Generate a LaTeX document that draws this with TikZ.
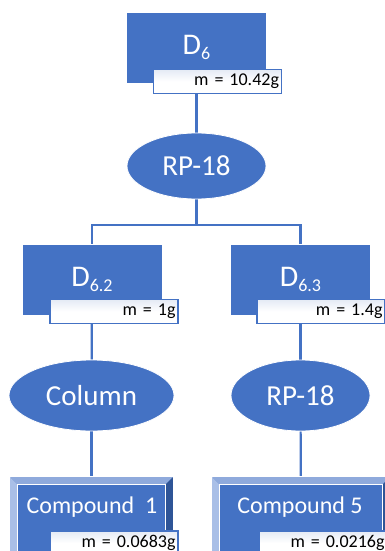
\documentclass[tikz,border=0pt]{standalone}
\usepackage{fontspec}
\setmainfont{Carlito}
\usetikzlibrary{calc,backgrounds,shapes.geometric}
\definecolor{accent}{HTML}{4472C4}
\definecolor{bevtop}{HTML}{8FAADC}
\definecolor{bevleft}{HTML}{A9BFE7}
\definecolor{bevright}{HTML}{2F5597}
\definecolor{labtop}{HTML}{E4EAF5}
\newcommand{\fraction}[2]{#1\raisebox{-0.35ex}{\fontsize{18}{20}\selectfont #2}}
\tikzset{
  sample/.style={rectangle, fill=accent, draw=white, line width=0.8pt,
    minimum width=140pt, minimum height=71pt, inner sep=0pt,
    text=white, font=\fontsize{30}{32}\selectfont},
  mass/.style={rectangle, draw=accent, line width=1.3pt,
    top color=labtop, bottom color=white, middle color=white,
    minimum width=128pt, minimum height=24pt, inner sep=2pt,
    text width=123pt, align=right, font=\fontsize{18}{20}\selectfont},
  method/.style={ellipse, fill=accent, draw=white, line width=0.8pt,
    inner sep=0pt, text=white, font=\fontsize{29}{31}\selectfont},
  compound/.style={rectangle, fill=accent, draw=white, line width=0.8pt,
    inner sep=0pt},
  cmptext/.style={text=white, font=\fontsize{24}{26}\selectfont, inner sep=0pt},
  link/.style={draw=accent, line width=2.2pt},
}
\begin{document}
\begin{tikzpicture}[x=1pt, y=-1pt]
\useasboundingbox (0,0) rectangle (385,551);
\clip (0,0) rectangle (385,551);

% sample fractions
\node[sample] (d6) at (196.5,47.5) {\fraction{D}{6}};
\node[mass] (m6) at (217.5,81.5) {m = 10.42g};

\node[method, minimum width=139pt, minimum height=66pt] (rp1) at (196.5,166) {RP-18};

\node[sample] (d62) at (92,279.5) {\fraction{D}{6.2}};
\node[mass] (m62) at (114,311.5) {m = 1g};
\node[sample] (d63) at (300.5,279.5) {\fraction{D}{6.3}};
\node[mass] (m63) at (321,311.5) {m = 1.4g};

\node[method, minimum width=165pt, minimum height=71pt] (col) at (91.5,395.5) {Column};
\node[method, minimum width=139pt, minimum height=71pt] (rp2) at (300.5,395.5) {RP-18};

% bevelled compound boxes
\node[compound, minimum width=163pt, minimum height=100pt] (c1) at (91.5,527) {};
\node[compound, minimum width=178pt, minimum height=100pt] (c5) at (301,527) {};
\foreach \b in {c1,c5} {
  \fill[bevtop] (\b.north west) -- (\b.north east) -- ($(\b.north east)+(-8,8)$) -- ($(\b.north west)+(8,8)$) -- cycle;
  \fill[bevleft] (\b.north west) -- ($(\b.north west)+(8,8)$) -- ($(\b.south west)+(8,-8)$) -- (\b.south west) -- cycle;
  \fill[bevright] (\b.north east) -- ($(\b.north east)+(-8,8)$) -- ($(\b.south east)+(-8,-8)$) -- (\b.south east) -- cycle;
  \draw[white, line width=0.8pt] (\b.north west) rectangle (\b.south east);
  \draw[white, line width=0.6pt] ($(\b.north west)+(8,8)$) rectangle ($(\b.south east)+(-8,-8)$);
}
\node[cmptext] (t1) at (92,507) {Compound\ \ 1};
\node[cmptext] (t5) at (300,507) {Compound 5};
\node[mass] (m1) at (114,543) {m = 0.0683g};
\node[mass] (m5) at (323,543) {m = 0.0216g};

% connectors
\coordinate (j) at (196.5,225);
\begin{scope}[on background layer]
  \draw[link] (d6) -- (rp1);
  \draw[link] (rp1) -- (j);
  \draw[link] (d62.north) |- (j) -| (d63.north);
  \draw[link] (d62) -- (col);
  \draw[link] (d63) -- (rp2);
  \draw[link] (col) -- (c1);
  \draw[link] (rp2) -- (c5);
\end{scope}
\end{tikzpicture}
\end{document}
